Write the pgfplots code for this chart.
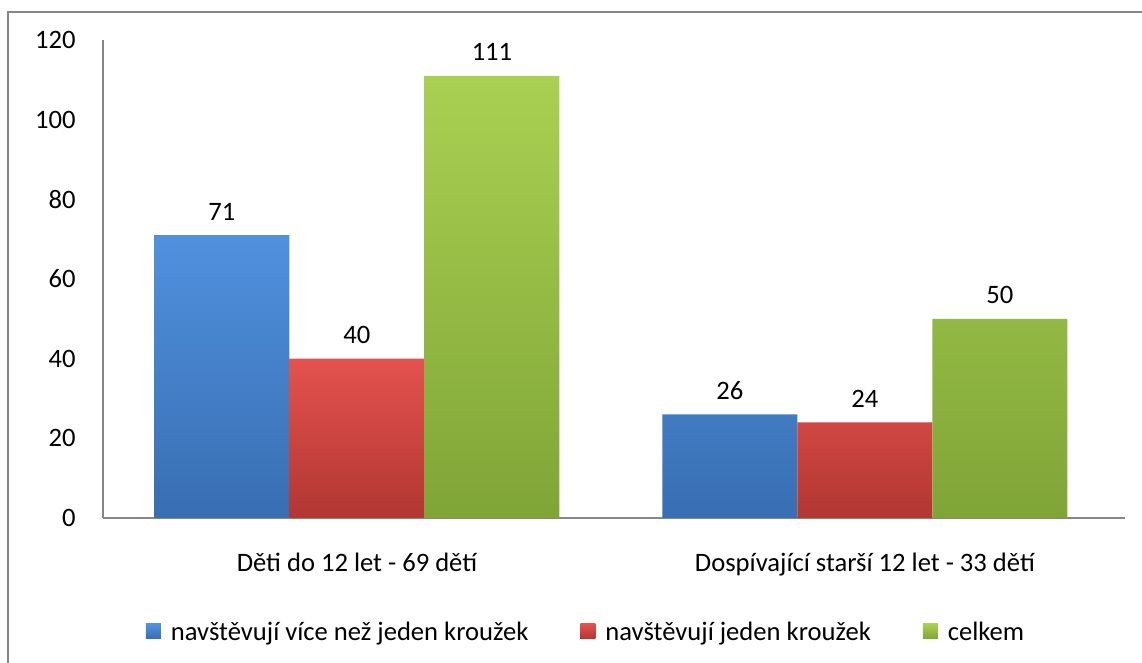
\documentclass[border=0pt]{standalone}
\usepackage{pgfplots}
\pgfplotsset{compat=1.18}
\usepackage{fontspec}
\setmainfont{Carlito}
\definecolor{bluetop}{RGB}{80,145,222}
\definecolor{bluebot}{RGB}{56,110,178}
\definecolor{redtop}{RGB}{228,82,78}
\definecolor{redbot}{RGB}{178,54,50}
\definecolor{greentop}{RGB}{170,208,82}
\definecolor{greenbot}{RGB}{128,165,55}
\definecolor{axgray}{RGB}{134,134,134}
\begin{document}
\begin{tikzpicture}
\useasboundingbox (0,0) rectangle (571pt,331.5pt);
\draw[axgray, line width=1pt] (4pt,0) -- (4pt,325.5pt) -- (571pt,325.5pt);
\begin{axis}[
  at={(51.5pt,72.5pt)}, anchor=south west,
  scale only axis, width=511pt, height=239pt,
  ymin=0, ymax=120, xmin=-0.5, xmax=1.512,
  axis x line=bottom, axis y line=left,
  x axis line style={-, axgray, line width=0.75pt},
  y axis line style={-, axgray, line width=0.75pt},
  ytick={0,20,...,120}, xtick={0,1},
  xticklabels={Děti do 12 let - 69 dětí, Dospívající starší 12 let - 33 dětí},
  major tick length=0pt,
  /pgf/number format/assume math mode=true,
  tick label style={font=\fontsize{13.3}{16}\selectfont},
  yticklabel style={anchor=east, inner sep=0pt, xshift=-13.5pt},
  xticklabel style={anchor=base, inner sep=0pt, yshift=-27pt},
  ybar=0pt, bar width=67.5pt,
  nodes near coords,
  every node near coord/.append style={font=\fontsize{13.3}{16}\selectfont, anchor=south, inner sep=0pt, yshift=7.3pt, black},
  legend columns=3,
  legend style={draw=none, at={(0.4736,-0.2406)}, anchor=center,
    font=\fontsize{13.3}{16}\selectfont,
    /tikz/every even column/.append style={column sep=24pt}},
  legend image code/.code={\fill[#1, draw=none] (0pt,-3pt) rectangle (7.5pt,4.5pt);
    \path (0pt,0pt) -- (10.5pt,0pt);},
]
\addplot[draw=none, top color=bluetop, bottom color=bluebot] coordinates {(0,71) (1,26)};
\addplot[draw=none, top color=redtop, bottom color=redbot] coordinates {(0,40) (1,24)};
\addplot[draw=none, top color=greentop, bottom color=greenbot] coordinates {(0,111) (1,50)};
\legend{navštěvují více než jeden kroužek, navštěvují jeden kroužek, celkem}
\end{axis}
\end{tikzpicture}
\end{document}
